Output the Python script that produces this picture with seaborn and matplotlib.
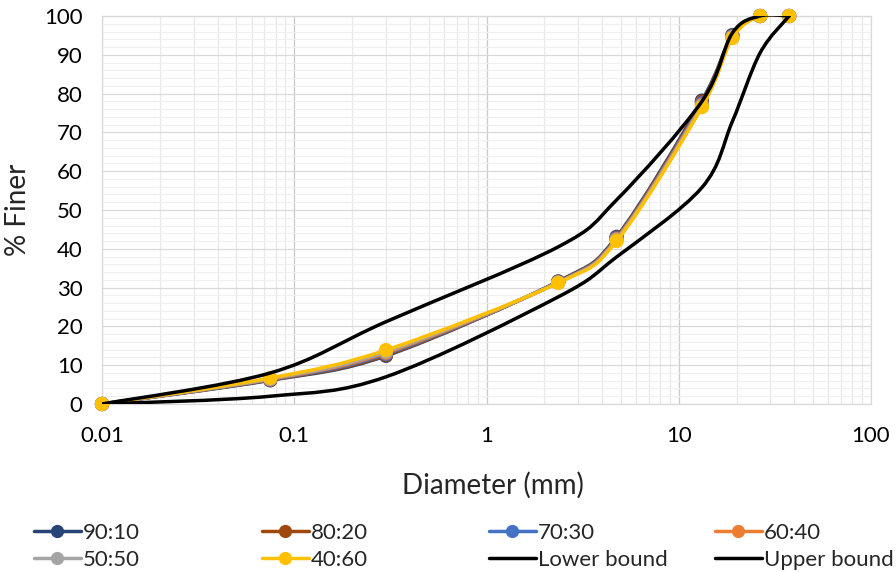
import numpy as np
import pandas as pd
import matplotlib
matplotlib.use("Agg")
import matplotlib.pyplot as plt
from matplotlib.path import Path
from matplotlib.patches import PathPatch
from matplotlib.lines import Line2D
from matplotlib.ticker import FixedLocator, NullFormatter
import seaborn as sns

# sieve sizes (mm) and % finer for each blend
sieve = [0.01, 0.075, 0.3, 2.36, 4.75, 13.2, 19.0, 26.5, 37.5]
s90_10 = [0, 6.1, 12.4, 31.6, 43.1, 78.2, 95.1, 100, 100]
s80_20 = [0, 6.2, 12.6, 31.5, 42.9, 77.9, 94.9, 100, 100]
s70_30 = [0, 6.3, 12.9, 31.4, 42.7, 77.5, 94.8, 100, 100]
s60_40 = [0, 6.4, 13.2, 31.3, 42.5, 77.1, 94.6, 100, 100]
s50_50 = [0, 6.5, 13.5, 31.3, 42.3, 76.8, 94.5, 100, 100]
s40_60 = [0, 6.7, 13.9, 31.2, 42.0, 76.5, 94.3, 100, 100]
lower_bound = [0, 2.0, 7.0, 27.6, 37.9, 55.8, 72.8, 90.5, 100]
upper_bound = [0, 8.0, 21.2, 40.5, 52.6, 78.0, 95.6, 100, 100]

blend_names = ["90:10", "80:20", "70:30", "60:40", "50:50", "40:60"]
blend_values = [s90_10, s80_20, s70_30, s60_40, s50_50, s40_60]
blend_colors = ["#264478", "#9E480E", "#4472C4", "#ED7D31", "#A5A5A5", "#FFC000"]

x_ticks = [0.01, 0.1, 1, 10, 100]
x_ticklabels = ["0.01", "0.1", "1", "10", "100"]
y_ticks = list(range(0, 101, 10))

sns.set_style("white")
plt.rcParams["font.family"] = ["Lato", "DejaVu Sans"]


def smooth_path(x, y):
    # Excel-style smoothed line: cubic Bezier through the points (log-x space)
    pts = np.column_stack([np.log10(x), np.asarray(y, dtype=float)])
    n = len(pts)
    verts = [pts[0]]
    codes = [Path.MOVETO]
    for i in range(n - 1):
        p0 = pts[max(i - 1, 0)]
        p1 = pts[i]
        p2 = pts[i + 1]
        p3 = pts[min(i + 2, n - 1)]
        verts += [p1 + (p2 - p0) / 6.0, p2 - (p3 - p1) / 6.0, p2]
        codes += [Path.CURVE4] * 3
    verts = np.array(verts)
    verts[:, 0] = 10 ** verts[:, 0]
    return Path(verts, codes)


fig = plt.figure(figsize=(8.96, 5.72), dpi=100)
ax = fig.add_axes([102 / 896, 1 - 404 / 572, 769 / 896, 388 / 572])
ax.set_xscale("log")
ax.set_xlim(0.01, 100)
ax.set_ylim(0, 100)

# gridlines
ax.xaxis.set_major_locator(FixedLocator(x_ticks))
ax.xaxis.set_minor_locator(FixedLocator([m * 10.0 ** e for e in range(-2, 2) for m in range(2, 10)]))
ax.xaxis.set_minor_formatter(NullFormatter())
ax.set_yticks(y_ticks)
ax.set_yticks(range(0, 101, 2), minor=True)
ax.grid(True, which="major", axis="x", color="#C9C9C9", lw=0.9)
ax.grid(True, which="minor", axis="x", color="#E8E8E8", lw=0.9)
ax.grid(True, which="major", axis="y", color="#D9D9D9", lw=0.9)
ax.grid(True, which="minor", axis="y", color="#F0F0F0", lw=0.9)
ax.set_axisbelow(True)
for sp in ax.spines.values():
    sp.set_color("#D9D9D9")
    sp.set_linewidth(0.9)

z = 3
for name, vals, col in zip(blend_names, blend_values, blend_colors):
    ax.add_patch(PathPatch(smooth_path(sieve, vals), fc="none", ec=col, lw=2.5,
                           capstyle="round", joinstyle="round", zorder=z))
    df = pd.DataFrame({"d": sieve, "p": vals})
    sns.scatterplot(data=df, x="d", y="p", ax=ax, color=col, s=105, edgecolor="none",
                    linewidth=0, zorder=z + 0.5, clip_on=False, legend=False)
    z += 1

for vals in (lower_bound, upper_bound):
    ax.add_patch(PathPatch(smooth_path(sieve, vals), fc="none", ec="black", lw=2.5,
                           capstyle="round", joinstyle="round", zorder=z))
    z += 1

ax.set_xticks(x_ticks)
ax.set_xticklabels(x_ticklabels)
ax.tick_params(axis="both", which="both", length=0, labelsize=16, colors="black")
ax.tick_params(axis="x", pad=16)
ax.tick_params(axis="y", pad=14)

ax.set_xlabel("Diameter (mm)", fontsize=20)
ax.set_ylabel("% Finer", fontsize=20)
ax.xaxis.set_label_coords(0.508, -0.175)
ax.yaxis.set_label_coords(-0.092, 0.5)

# legend: four columns of two entries each
handles = [Line2D([], [], color=c, lw=2.5, marker="o", markersize=8.5) for c in blend_colors]
handles += [Line2D([], [], color="black", lw=2.5), Line2D([], [], color="black", lw=2.5)]
labels = blend_names + ["Lower bound", "Upper bound"]
columns = [(0, 4), (1, 5), (2, 6), (3, 7)]
col_x = [34, 262, 489, 715]
for (a, b), cx in zip(columns, col_x):
    fig.legend([handles[a], handles[b]], [labels[a], labels[b]], loc="upper left",
               bbox_to_anchor=(cx / 896, 1 - 523 / 572), frameon=False, fontsize=16,
               handlelength=2.1, handletextpad=0.1, borderpad=0, borderaxespad=0,
               labelspacing=0.3)

fig.savefig("out.png", dpi=100)
